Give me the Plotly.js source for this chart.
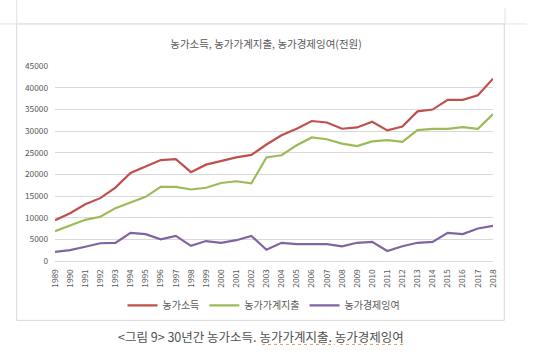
<!DOCTYPE html>
<html>
<head>
<meta charset="utf-8">
<script src="https://cdn.plot.ly/plotly-3.0.1.min.js"></script>
<style>
html,body{margin:0;padding:0;background:#fff;}
#chart{width:547px;height:357px;}
</style>
</head>
<body>
<div id="chart"></div>
<script>
var years = ['1989','1990','1991','1992','1993','1994','1995','1996','1997','1998','1999','2000','2001','2002','2003','2004','2005','2006','2007','2008','2009','2010','2011','2012','2013','2014','2015','2016','2017','2018'];
var income = [9391,11026,13103,14505,16928,20323,21803,23298,23488,20494,22232,23072,23907,24475,26878,29001,30503,32303,31967,30523,30814,32121,30148,31031,34524,34950,37215,37197,38239,42066];
var expenditure = [6900,8200,9500,10200,12200,13500,14800,17100,17100,16500,16900,18000,18400,17900,23900,24400,26700,28500,28100,27100,26500,27600,27900,27500,30200,30500,30500,30900,30500,33900];
var surplus = [2100,2500,3300,4100,4200,6500,6200,5000,5800,3500,4600,4200,4800,5800,2600,4200,3900,3900,3900,3400,4200,4400,2300,3400,4200,4400,6500,6200,7500,8100];
var seriesNames = ['농가소득','농가가계지출','농가경제잉여'];
var colors = ['#C0504D','#9BBB59','#8064A2'];
var chartTitle = '농가소득, 농가가계지출, 농가경제잉여(전원)';
var caption = '<그림 9> 30년간 농가소득. 농가가계지출. 농가경제잉여';

var font = '"Noto Sans CJK KR", "Noto Sans", sans-serif';
var vals = [income, expenditure, surplus];
var traces = vals.map(function(v,i){
  return {x: years, y: v, type:'scatter', mode:'lines', name: seriesNames[i],
          line:{color: colors[i], width:2.2}, hoverinfo:'skip'};
});

// paper coordinate helpers (plot area px: x 55..493, y 66..260.7)
function px(x){ return (x-55)/438; }
function py(y){ return (260.7-y)/194.7; }

var layout = {
  width:547, height:357,
  margin:{l:55, r:54, t:66, b:96.3, pad:0},
  paper_bgcolor:'#ffffff', plot_bgcolor:'#ffffff',
  showlegend:true,
  title:{text: chartTitle, x:266/547, xanchor:'center', y:1-44.5/357, yanchor:'middle',
         font:{family:font, size:10.5, color:'#595959'}},
  xaxis:{type:'category', tickangle:-90, tickfont:{family:font, size:8.3, color:'#595959'},
         showgrid:false, showline:true, linecolor:'#d9d9d9', linewidth:1, ticks:'', zeroline:false,
         fixedrange:true, ticklabelstandoff:4},
  yaxis:{range:[0,45000], dtick:5000, tickformat:'d', tickfont:{family:font, size:8.3, color:'#595959'},
         showgrid:true, gridcolor:'#d9d9d9', gridwidth:1, zeroline:false, showline:false, ticks:'',
         fixedrange:true, ticklabelstandoff:6},
  legend:{orientation:'h', x:px(264), xanchor:'center', y:py(305), yanchor:'middle',
          font:{family:font, size:10, color:'#595959'}, itemwidth:30, bgcolor:'rgba(0,0,0,0)'},
  shapes:[
    {type:'rect', xref:'paper', yref:'paper', x0:px(16.7), x1:px(504.3), y0:py(320), y1:py(24),
     line:{color:'#d9d9d9', width:1}, layer:'below'},
    {type:'line', xref:'paper', yref:'paper', x0:px(0), x1:px(527), y0:py(24), y1:py(24),
     line:{color:'#e3e3e3', width:1}, layer:'below'},
    {type:'line', xref:'paper', yref:'paper', x0:px(16.7), x1:px(16.7), y0:py(0), y1:py(24),
     line:{color:'#e3e3e3', width:1}, layer:'below'},
    {type:'line', xref:'paper', yref:'paper', x0:px(505), x1:px(505), y0:py(8), y1:py(24),
     line:{color:'#e3e3e3', width:1}, layer:'below'},
    {type:'line', xref:'paper', yref:'paper', x0:px(262), x1:px(335), y0:py(344), y1:py(344),
     line:{color:'#d9a066', width:1, dash:'dot'}},
    {type:'line', xref:'paper', yref:'paper', x0:px(340), x1:px(405), y0:py(344), y1:py(344),
     line:{color:'#d9a066', width:1, dash:'dot'}}
  ],
  annotations:[
    {text: caption, xref:'paper', yref:'paper', x:px(260.5), y:py(336), xanchor:'center', yanchor:'middle',
     showarrow:false, font:{family:font, size:12.5, color:'#505050'}}
  ]
};

Plotly.newPlot('chart', traces, layout, {displayModeBar:false, staticPlot:true});
</script>
</body>
</html>
